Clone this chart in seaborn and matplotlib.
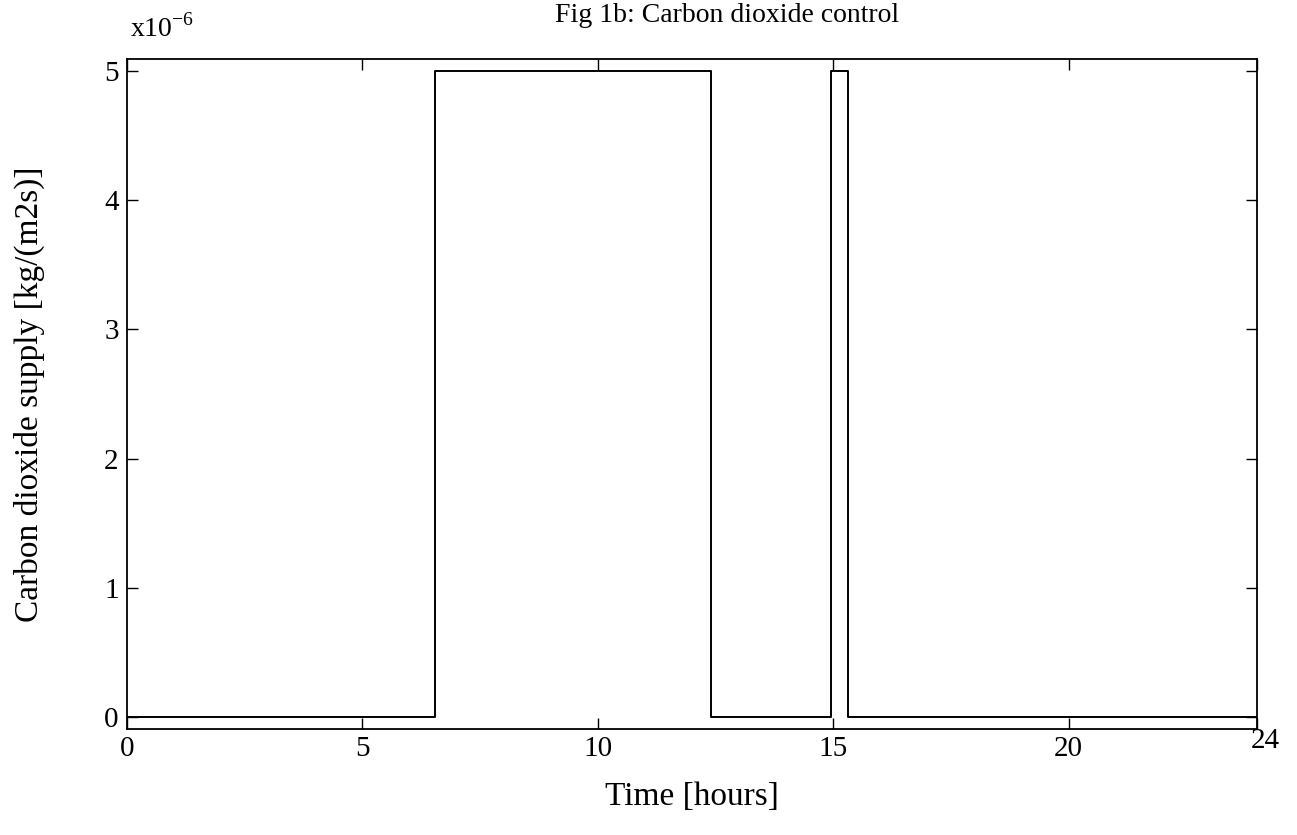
import matplotlib
matplotlib.use("Agg")
import matplotlib.pyplot as plt
import matplotlib.transforms as mtransforms
import seaborn as sns
import pandas as pd
from matplotlib.ticker import FuncFormatter, FixedLocator

# Data
time_hours = [0.0, 6.55, 12.41, 14.96, 15.31, 24.0]
co2_supply = [0.0, 5e-6, 0.0, 5e-6, 0.0, 0.0]   # kg/(m2 s)
x_ticks = [0, 5, 10, 15, 20, 24]
y_ticks = [0, 1, 2, 3, 4, 5]
scale = 1e-6

sns.set_theme(style="white")
plt.rcParams['font.family'] = ['Liberation Serif', 'DejaVu Serif']
plt.rcParams['mathtext.fontset'] = 'custom'
plt.rcParams['mathtext.rm'] = 'Liberation Serif'

df = pd.DataFrame({"time": time_hours, "supply": co2_supply})

fig = plt.figure(figsize=(12.97, 8.35), dpi=100)
ax = fig.add_axes([127/1297, 1-729/835, 1130/1297, 670/835])

sns.lineplot(data=df, x="time", y="supply", ax=ax, color="black",
             linewidth=1.4, drawstyle="steps-post", estimator=None, sort=False)

ax.set_xlim(0, 24)
ax.set_ylim(-0.093*scale, 5.093*scale)
ax.xaxis.set_major_locator(FixedLocator(x_ticks))
ax.yaxis.set_major_locator(FixedLocator([v*scale for v in y_ticks]))
ax.yaxis.set_major_formatter(FuncFormatter(lambda v, p: f"{v/scale:.0f}"))
ax.xaxis.set_major_formatter(FuncFormatter(lambda v, p: f"{v:.0f}"))

for s in ax.spines.values():
    s.set_color("black")
    s.set_linewidth(1.3)

ax.tick_params(axis="both", which="major", direction="in", length=8, width=1,
               color="black", labelsize=21, labelcolor="black",
               top=True, right=True, bottom=True, left=True)
ax.tick_params(axis="x", pad=5)
ax.tick_params(axis="y", pad=6)

# "24" label sits a bit higher and to the right
lbls = ax.get_xticklabels()
lbls[-1].set_transform(lbls[-1].get_transform() +
                       mtransforms.ScaledTranslation(8/100, 8/100, fig.dpi_scale_trans))

ax.set_xlabel("Time [hours]", fontsize=24, color="black")
ax.set_ylabel("Carbon dioxide supply [kg/(m2s)]", fontsize=24, color="black")
ax.xaxis.set_label_coords(0.5, -0.078)
ax.yaxis.set_label_coords(-0.073, 0.5)

fig.text(727/1297, 1-16/835, "Fig 1b: Carbon dioxide control", ha="center", va="center",
         fontsize=20, color="black")
fig.text(130/1297, 1-28/835, r"x10$^{\mathrm{-6}}$", ha="left", va="center",
         fontsize=20, color="black")

fig.savefig("out.png", dpi=100, facecolor="white")
